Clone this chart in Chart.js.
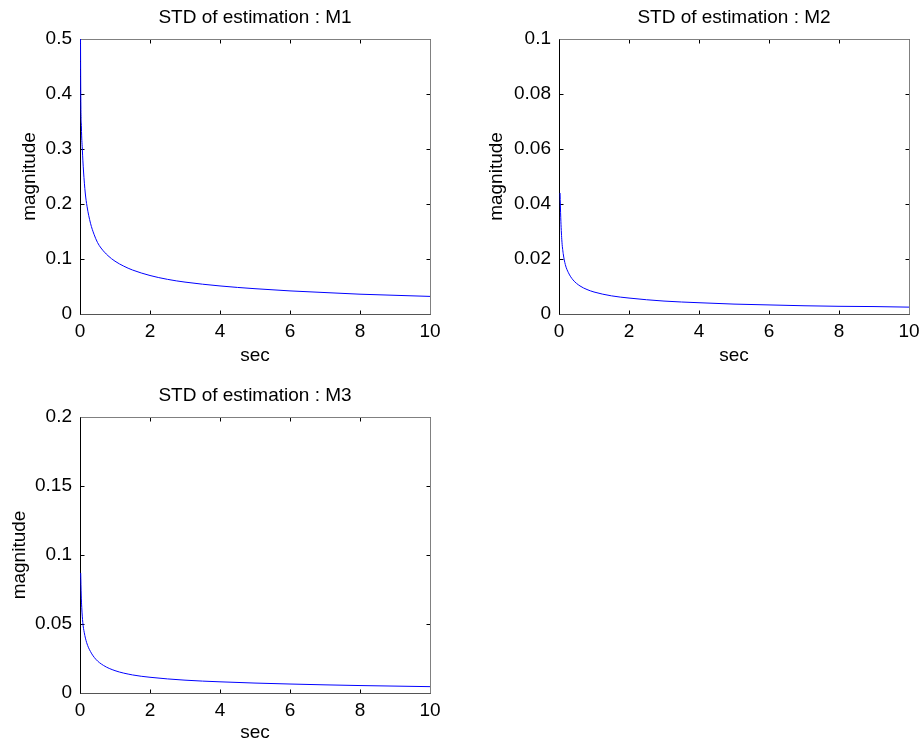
<!DOCTYPE html>
<html><head><meta charset="utf-8">
<script src="https://cdn.jsdelivr.net/npm/chart.js@4.4.1/dist/chart.umd.min.js"></script>
<style>
html,body{margin:0;padding:0;background:#fff;}
body{width:924px;height:749px;position:relative;overflow:hidden;}
canvas{position:absolute;display:block;}
</style></head><body>
<canvas id="c1" width="462" height="372" style="left:0;top:0"></canvas>
<canvas id="c2" width="445" height="372" style="left:479px;top:0"></canvas>
<canvas id="c3" width="462" height="372" style="left:0;top:377px"></canvas>
<script>
// ---- data ----
const titles = ['STD of estimation : M1', 'STD of estimation : M2', 'STD of estimation : M3'];
const xLabel = 'sec';
const yLabel = 'magnitude';
const xTickValues = [0, 2, 4, 6, 8, 10];
const xTickLabels = ['0', '2', '4', '6', '8', '10'];

const m1Time = [0.005, 0.02, 0.04, 0.066, 0.1, 0.15, 0.2, 0.3, 0.4, 0.5, 0.6, 0.8, 1.0, 1.25, 1.5, 2, 2.5, 3, 4, 5, 6, 7, 8, 9, 10];
const m1Std  = [0.70, 0.42, 0.34, 0.30, 0.26, 0.22, 0.196, 0.165, 0.145, 0.130, 0.120, 0.106, 0.096, 0.087, 0.080, 0.070, 0.063, 0.058, 0.051, 0.046, 0.042, 0.039, 0.036, 0.034, 0.032];
const m1YTicks = [0, 0.1, 0.2, 0.3, 0.4, 0.5];
const m1YLabels = ['0', '0.1', '0.2', '0.3', '0.4', '0.5'];

const m2Time = [0.03, 0.05, 0.08, 0.12, 0.18, 0.27, 0.4, 0.6, 0.8, 1, 1.5, 2, 3, 4, 5, 6, 7, 8, 9, 10];
const m2Std  = [0.044, 0.035, 0.027, 0.022, 0.018, 0.0150, 0.0124, 0.0102, 0.0089, 0.0080, 0.0066, 0.0058, 0.0047, 0.0041, 0.0036, 0.0033, 0.0030, 0.0028, 0.0027, 0.0025];
const m2YTicks = [0, 0.02, 0.04, 0.06, 0.08, 0.1];
const m2YLabels = ['0', '0.02', '0.04', '0.06', '0.08', '0.1'];

const m3Time = [0.02, 0.035, 0.05, 0.08, 0.12, 0.19, 0.3, 0.45, 0.67, 1, 1.5, 2, 3, 4, 5, 6, 7, 8, 9, 10];
const m3Std  = [0.087, 0.071, 0.062, 0.051, 0.044, 0.0365, 0.030, 0.0245, 0.020, 0.0162, 0.0131, 0.0114, 0.0093, 0.0081, 0.0072, 0.0065, 0.0059, 0.0054, 0.0050, 0.0046];
const m3YTicks = [0, 0.05, 0.1, 0.15, 0.2];
const m3YLabels = ['0', '0.05', '0.1', '0.15', '0.2'];

// ---- rendering ----
const FONT = {family: '"Liberation Sans", Arial, sans-serif', size: 19, lineHeight: 1.2};
Chart.defaults.color = '#000';
Chart.defaults.font.family = FONT.family;

const boxPlugin = {
  id: 'matlabBox',
  beforeDatasetsDraw(chart) {
    const {ctx, chartArea: a, scales: {x, y}} = chart;
    const L = a.left + 0.5, R = Math.round(a.right) + 0.5, T = a.top + 0.5, B = Math.round(a.bottom) + 0.5;
    const tl = 4;
    ctx.save();
    ctx.lineWidth = 1;
    ctx.strokeStyle = '#000';
    ctx.beginPath();
    x.ticks.forEach(t => {
      const px = Math.round(x.getPixelForValue(t.value)) + 0.5;
      ctx.moveTo(px, B); ctx.lineTo(px, B - tl);
      ctx.moveTo(px, T); ctx.lineTo(px, T + tl);
    });
    y.ticks.forEach(t => {
      const py = Math.round(y.getPixelForValue(t.value)) + 0.5;
      ctx.moveTo(L, py); ctx.lineTo(L + tl, py);
      ctx.moveTo(R, py); ctx.lineTo(R - tl, py);
    });
    ctx.stroke();
    ctx.strokeStyle = '#808080';
    ctx.beginPath();
    ctx.moveTo(L, T); ctx.lineTo(R, T); ctx.lineTo(R, B);
    ctx.stroke();
    ctx.strokeStyle = '#555';
    ctx.beginPath();
    ctx.moveTo(L, B); ctx.lineTo(R, B);
    ctx.stroke();
    ctx.strokeStyle = '#000';
    ctx.beginPath();
    ctx.moveTo(L, T); ctx.lineTo(L, B);
    ctx.stroke();
    ctx.restore();
  }
};

function makeChart(id, title, times, values, yMax, yTicks, yLabels, geo) {
  const canvas = document.getElementById(id);
  const pts = times.map((t, i) => ({x: t, y: values[i]}));
  return new Chart(canvas, {
    type: 'line',
    data: {datasets: [{
      data: pts,
      borderColor: '#0000ff',
      borderWidth: 1,
      pointRadius: 0,
      fill: false,
      cubicInterpolationMode: 'monotone'
    }]},
    options: {
      responsive: false,
      animation: false,
      events: [],
      layout: {padding: {left: 0, top: 0, right: canvas.width - geo.right, bottom: 0}},
      plugins: {
        legend: {display: false},
        tooltip: {enabled: false},
        title: {
          display: true, text: title, fullSize: false, color: '#000',
          font: {family: FONT.family, size: FONT.size, lineHeight: FONT.lineHeight, weight: 'normal'},
          padding: {top: geo.titleTop, bottom: geo.titleH - geo.titleTop - FONT.size * FONT.lineHeight}
        }
      },
      scales: {
        x: {
          type: 'linear', min: 0, max: 10,
          grid: {display: false, drawTicks: false},
          border: {display: false},
          ticks: {padding: 6, font: FONT, color: '#000', maxRotation: 0, autoSkip: false,
                  callback: (v, i) => xTickLabels[i]},
          afterBuildTicks: s => { s.ticks = xTickValues.map(v => ({value: v})); },
          afterFit: s => { s.height = geo.xAxisH; s.paddingLeft = 0; s.paddingRight = 0; },
          title: {display: true, text: xLabel, color: '#000', font: FONT, padding: {top: 0, bottom: 5}}
        },
        y: {
          type: 'linear', min: 0, max: yMax,
          grid: {display: false, drawTicks: false},
          border: {display: false},
          ticks: {padding: 8, font: FONT, color: '#000', autoSkip: false,
                  callback: (v, i) => yLabels[i]},
          afterBuildTicks: s => { s.ticks = yTicks.map(v => ({value: v})); },
          afterFit: s => { s.width = 80; s.paddingTop = 0; s.paddingBottom = 0; },
          title: {display: true, text: yLabel, color: '#000', font: FONT, padding: {top: geo.yTitlePad, bottom: 0}}
        }
      }
    },
    plugins: [boxPlugin]
  });
}

makeChart('c1', titles[0], m1Time, m1Std, 0.5, m1YTicks, m1YLabels, {right: 430, titleH: 39, titleTop: 6, xAxisH: 58, yTitlePad: 18});
makeChart('c2', titles[1], m2Time, m2Std, 0.1, m2YTicks, m2YLabels, {right: 430, titleH: 39, titleTop: 6, xAxisH: 58, yTitlePad: 6.5});
makeChart('c3', titles[2], m3Time, m3Std, 0.2, m3YTicks, m3YLabels, {right: 430, titleH: 40, titleTop: 7.5, xAxisH: 56, yTitlePad: 8.5});
</script>
</body></html>
